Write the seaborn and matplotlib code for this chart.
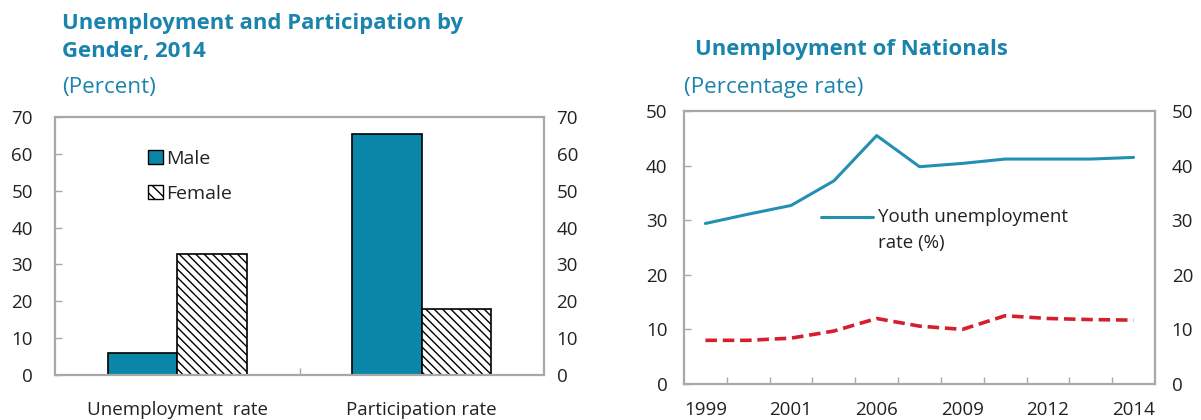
import numpy as np
import pandas as pd
import matplotlib
matplotlib.use("Agg")
import matplotlib.pyplot as plt
from matplotlib.patches import Patch
from matplotlib.lines import Line2D
from matplotlib.legend_handler import HandlerLine2D
from matplotlib.ticker import FixedLocator, MultipleLocator
import seaborn as sns

# ---------------- data ----------------
bar_categories = ["Unemployment  rate", "Participation rate"]
genders = ["Male", "Female"]
male_values = [6.0, 65.3]
female_values = [32.8, 17.8]

year_labels = ["1999", "", "2001", "", "2006", "", "2009", "", "2012", "", "2014"]
youth_unemployment = [29.4, 31.1, 32.7, 37.2, 45.5, 39.8, 40.4, 41.2, 41.2, 41.2, 41.5]
national_unemployment = [8.0, 8.0, 8.4, 9.7, 12.0, 10.6, 10.0, 12.5, 12.0, 11.8, 11.7]

# ---------------- style ----------------
sns.set_theme(style="white")
plt.rcParams["font.family"] = ["Open Sans", "DejaVu Sans"]
plt.rcParams["hatch.linewidth"] = 1.0

TITLE_C = "#1a84ad"
BAR_C = "#0a86a8"
LINE_C = "#2390b2"
RED_C = "#d41f2c"
SPINE_C = "#a8a8a8"
TXT_C = "#222222"
TICK_FS = 13.5
TITLE_FS = 15.9
SUB_FS = 16.2


class FirstLineHandler(HandlerLine2D):
    """Line handle aligned with the first line of a two-line label."""

    def __init__(self, yshift, **kw):
        super().__init__(**kw)
        self.yshift = yshift

    def create_artists(self, legend, orig_handle, xdescent, ydescent, width,
                       height, fontsize, trans):
        arts = super().create_artists(legend, orig_handle, xdescent, ydescent,
                                      width, height, fontsize, trans)
        for a in arts:
            a.set_ydata(np.asarray(a.get_ydata()) + self.yshift)
        return arts


fig = plt.figure(figsize=(12.01, 4.20), dpi=100)

# ---------------- left: bar chart ----------------
ax1 = fig.add_axes([55 / 1201, 1 - 375 / 420, 489 / 1201, 258 / 420])
df = pd.DataFrame({
    "category": bar_categories * 2,
    "gender": [genders[0]] * 2 + [genders[1]] * 2,
    "value": male_values + female_values,
})
sns.barplot(data=df, x="category", y="value", hue="gender", hue_order=genders,
            palette=[BAR_C, "white"], width=0.57, edgecolor="black", linewidth=1.2,
            saturation=1, legend=False, ax=ax1)
n = len(bar_categories)
for i, p in enumerate(ax1.patches[:2 * n]):
    if i >= n:
        p.set_hatch("\\\\\\\\")
        p.set_facecolor("white")

ax1.set_ylim(0, 70)
ax1.set_xlim(-0.5, n - 0.5)
ax1.set_xlabel("")
ax1.set_ylabel("")
ax1.yaxis.set_major_locator(MultipleLocator(10))
ax1.xaxis.set_minor_locator(FixedLocator(np.arange(0.5, n - 0.5, 1)))
ax1.tick_params(axis="x", which="major", length=0, pad=19, labelsize=TICK_FS, colors=TXT_C)
ax1.tick_params(axis="x", which="minor", bottom=True, direction="in", length=5,
                width=1, color=SPINE_C)
ax1.tick_params(axis="y", left=False, right=True, direction="in", length=5, width=1,
                color=SPINE_C, labelsize=TICK_FS, labelcolor=TXT_C, pad=16)
for s in ax1.spines.values():
    s.set_visible(True)
    s.set_color(SPINE_C)
    s.set_linewidth(1.6)
ax1r = ax1.twinx()
ax1r.set_ylim(ax1.get_ylim())
ax1r.yaxis.set_major_locator(MultipleLocator(10))
ax1r.tick_params(axis="y", right=False, length=0, labelsize=TICK_FS, labelcolor=TXT_C, pad=9)
for s in ax1r.spines.values():
    s.set_visible(False)

leg1 = ax1.legend(handles=[Patch(facecolor=BAR_C, edgecolor="black", label="Male"),
                           Patch(facecolor="white", edgecolor="black", hatch="\\\\\\",
                                 label="Female")],
                  loc="upper left", bbox_to_anchor=(0.155, 0.94), frameon=False,
                  handlelength=0.75, handleheight=0.75, handletextpad=0.15,
                  labelspacing=0.85, fontsize=14)
for t in leg1.get_texts():
    t.set_color(TXT_C)

fig.text(62 / 1201, 1 - 23 / 420, "Unemployment and Participation by", fontsize=TITLE_FS,
         fontweight="bold", color=TITLE_C, va="center", ha="left")
fig.text(62 / 1201, 1 - 51 / 420, "Gender, 2014", fontsize=TITLE_FS,
         fontweight="bold", color=TITLE_C, va="center", ha="left")
fig.text(62 / 1201, 1 - 87 / 420, "(Percent)", fontsize=SUB_FS,
         color=TITLE_C, va="center", ha="left")

# ---------------- right: line chart ----------------
ax2 = fig.add_axes([684 / 1201, 1 - 384 / 420, 471 / 1201, 273 / 420])
m = len(year_labels)
xs = np.arange(m)
ldf = pd.DataFrame({"x": xs, "youth": youth_unemployment, "nat": national_unemployment})
sns.lineplot(data=ldf, x="x", y="youth", color=LINE_C, linewidth=2.2, ax=ax2)
sns.lineplot(data=ldf, x="x", y="nat", color=RED_C, linewidth=2.6, ax=ax2)
ax2.lines[1].set_dashes([3.2, 1.6])
ax2.set_xlim(-0.5, m - 0.5)
ax2.set_ylim(0, 50)
ax2.set_xlabel("")
ax2.set_ylabel("")
ax2.set_xticks(xs)
ax2.set_xticklabels(year_labels)
ax2.xaxis.set_minor_locator(FixedLocator(np.arange(0.5, m - 0.5, 1)))
ax2.tick_params(axis="x", which="major", length=0, pad=12, labelsize=TICK_FS, colors=TXT_C)
ax2.tick_params(axis="x", which="minor", bottom=True, direction="in", length=5,
                width=1, color=SPINE_C)
ax2.yaxis.set_major_locator(MultipleLocator(10))
ax2.tick_params(axis="y", left=False, right=True, direction="in", length=5, width=1,
                color=SPINE_C, labelsize=TICK_FS, labelcolor=TXT_C, pad=12)
for s in ax2.spines.values():
    s.set_visible(True)
    s.set_color(SPINE_C)
    s.set_linewidth(1.6)
ax2r = ax2.twinx()
ax2r.set_ylim(ax2.get_ylim())
ax2r.yaxis.set_major_locator(MultipleLocator(10))
ax2r.tick_params(axis="y", right=False, length=0, labelsize=TICK_FS, labelcolor=TXT_C, pad=12)
for s in ax2r.spines.values():
    s.set_visible(False)

youth_handle = Line2D([], [], color=LINE_C, linewidth=2.2,
                      label="Youth unemployment\nrate (%)")
leg2 = ax2.legend(handles=[youth_handle],
                  handler_map={youth_handle: FirstLineHandler(yshift=9.7)},
                  loc="upper left", bbox_to_anchor=(0.255, 0.705), frameon=False,
                  handlelength=2.75, handletextpad=0.3, fontsize=13.5)
for t in leg2.get_texts():
    t.set_color(TXT_C)
    t.set_linespacing(1.55)

fig.text(695 / 1201, 1 - 50 / 420, "Unemployment of Nationals", fontsize=TITLE_FS,
         fontweight="bold", color=TITLE_C, va="center", ha="left")
fig.text(684 / 1201, 1 - 87 / 420, "(Percentage rate)", fontsize=SUB_FS,
         color=TITLE_C, va="center", ha="left")

fig.savefig("out.png", dpi=100)
